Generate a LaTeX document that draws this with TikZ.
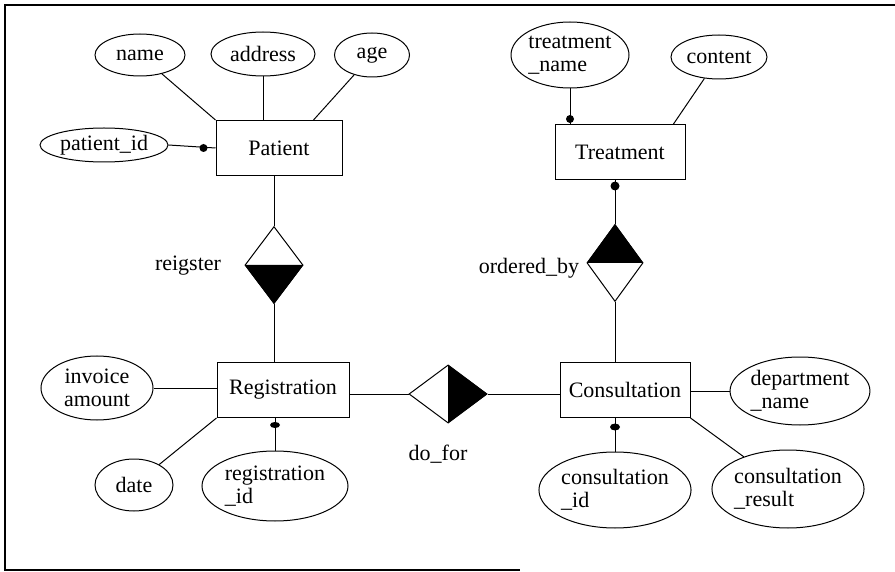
\documentclass[tikz,border=0pt]{standalone}
\usepackage{fontspec}
\setmainfont{Liberation Serif}
\usetikzlibrary{shapes.geometric}

\tikzset{
    entity/.style = {draw, line width=1pt, minimum width=126pt, minimum height=55pt, inner sep=0pt},
    attr/.style = {draw, line width=1pt, ellipse, inner sep=0pt},
    rel/.style = {draw, line width=1pt, diamond, inner sep=0pt},
    link/.style = {line width=1pt},
}

\begin{document}
\begin{tikzpicture}[x=1pt, y=-1pt, font=\fontsize{22}{23}\selectfont]
        \useasboundingbox (0,0) rectangle (895,572);
        % frame
        \draw[line width=1.2pt] (895,5) -- (5,5) -- (5,570) -- (520,570);

        % entities
        \node[entity] (pat) at (279,148) {Patient};
        \node[entity, minimum width=130pt] (treat) at (620,152) {Treatment};
        \node[entity, minimum width=132pt] (regis) at (283,390) {Registration};
        \node[entity, minimum width=130pt] (cons) at (625,390) {Consultation};

        % attributes of Patient
        \node[attr, minimum width=90pt, minimum height=42pt] (name) at (140,55) {name};
        \node[attr, minimum width=104pt, minimum height=44pt] (addr) at (263,54) {address};
        \node[attr, minimum width=75pt, minimum height=44pt] (age) at (372,55) {age};
        \node[attr, minimum width=128pt, minimum height=34pt] (pid) at (104,145) {patient\_id};

        \draw[link] (name) -- (pat.north west);
        \draw[link] (addr.south) -- (addr.south |- pat.north);
        \draw[link] (age) -- ([xshift=-29pt]pat.north east);
        \draw[link] (pid.east) -- (pat.west);
        \fill ([xshift=-12pt]pat.west) circle (4);

        % attributes of Treatment
        \node[attr, minimum width=118pt, minimum height=66pt, align=left] (tname) at (570,55) {treatment\\\_name};
        \node[attr, minimum width=96pt, minimum height=44pt] (cont) at (719,57) {content};

        \draw[link] (tname.south) -- (tname.south |- treat.north);
        \fill (570,119) circle (4);
        \draw[link] (cont) -- ([xshift=-12pt]treat.north east);

        % attributes of Registration
        \node[attr, minimum width=112pt, minimum height=64pt, align=center] (inv) at (97,388) {invoice\\amount};
        \node[attr, minimum width=78pt, minimum height=52pt] (date) at (134,485) {date};
        \node[attr, minimum width=146pt, minimum height=70pt, align=left] (rid) at (275,486) {registration\\\_id};

        \draw[link] (inv.east) -- (inv.east -| regis.west);
        \draw[link] (date) -- (regis.south west);
        \draw[link] (rid.north) -- (rid.north |- regis.south);
        \fill (275,425) ellipse (5 and 3);

        % attributes of Consultation
        \node[attr, minimum width=134pt, minimum height=68pt, align=left] (dept) at (800,391) {department\\\_name};
        \node[attr, minimum width=142pt, minimum height=76pt, align=left] (cid) at (615,490) {consultation\\\_id};
        \node[attr, minimum width=146pt, minimum height=78pt, align=left] (cres) at (788,489) {consultation\\\_result};

        \draw[link] (dept.west) -- (dept.west -| cons.east);
        \draw[link] (cid.north) -- (cid.north |- cons.south);
        \fill (615,427) ellipse (5 and 3.5);
        \draw[link] (cons.south east) -- (cres);

        % relationships
        \node[rel, minimum width=58pt, minimum height=77pt] (reg) at (274,265) {};
        \fill (reg.west) -- (reg.south) -- (reg.east) -- cycle;
        \node at (188,266) {reigster};

        \node[rel, minimum width=56pt, minimum height=77pt] (ordby) at (615,263) {};
        \fill (ordby.west) -- (ordby.north) -- (ordby.east) -- cycle;
        \node at (529,268) {ordered\_by};

        \node[rel, minimum width=78pt, minimum height=58pt] (dofor) at (448,394) {};
        \fill (dofor.north) -- (dofor.east) -- (dofor.south) -- cycle;
        \node at (438,454) {do\_for};

        \draw[link] (reg.north) -- (reg.north |- pat.south);
        \draw[link] (reg.south) -- (reg.south |- regis.north);
        \draw[link] (ordby.north) -- (ordby.north |- treat.south);
        \fill (615,186) circle (4.5);
        \draw[link] (ordby.south) -- (ordby.south |- cons.north);
        \draw[link] (dofor.west) -- (dofor.west -| regis.east);
        \draw[link] (dofor.east) -- (dofor.east -| cons.west);
\end{tikzpicture}
\end{document}
